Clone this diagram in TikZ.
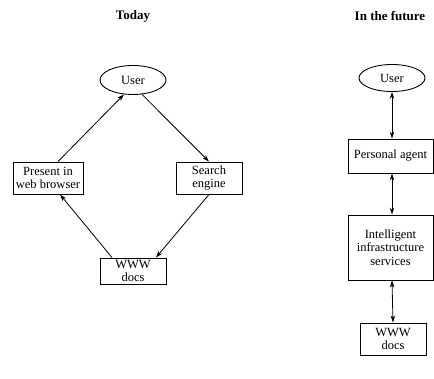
\documentclass[tikz,border=0pt]{standalone}
\usepackage{fontspec}
\setmainfont{Liberation Serif}
\usetikzlibrary{arrows.meta,shapes.geometric,calc}
\begin{document}
\begin{tikzpicture}[x=1pt,y=-1pt,
  every node/.style={font=\fontsize{12.5}{13.5}\selectfont},
  box/.style={draw,line width=0.9pt,rectangle,align=center,inner sep=1pt},
  oval/.style={draw,line width=0.9pt,ellipse,inner sep=0pt},
  title/.style={font=\fontsize{13}{15}\selectfont\bfseries},
  conn/.style={line width=0.8pt,-{Stealth[length=7pt,width=4.5pt]}},
  dconn/.style={line width=0.8pt,{Stealth[length=7pt,width=4.5pt]}-{Stealth[length=7pt,width=4.5pt]}}]
\useasboundingbox (0,0) rectangle (434,379);
\node[title] (t1) at (133,16) {Today};
\node[title] (t2) at (390,16) {In the future};
% left
\node[oval,minimum width=66pt,minimum height=29pt] (u) at (133,80) {User};
\node[box,minimum width=70pt,minimum height=32pt] (p) at (48,178) {Present in\\web browser};
\node[box,minimum width=66pt,minimum height=32pt] (s) at (209,178) {Search\\engine};
\node[box,minimum width=66pt,minimum height=26pt] (w) at (133,271) {WWW\\docs};
\draw[conn] ($(p.north)+(10,0)$) -- (u.238);
\draw[conn] (u.-58) -- (s.north);
\draw[conn] (s.south) -- ($(w.north)+(23,0)$);
\draw[conn] ($(w.north)+(-21,0)$) -- ($(p.south)+(12,0)$);
% right
\node[oval,minimum width=66pt,minimum height=27pt] (u2) at (392,78) {User};
\node[box,minimum width=85pt,minimum height=34pt] (pa) at (390.5,156) {Personal agent};
\node[box,minimum width=85pt,minimum height=65pt] (ii) at (390.5,247.5) {Intelligent\\infrastructure\\services};
\node[box,minimum width=66pt,minimum height=32pt] (w2) at (393,339) {WWW\\docs};
\draw[dconn] (u2.south) -- (u2.south |- pa.north);
\draw[dconn] (u2.south |- pa.south) -- (u2.south |- ii.north);
\draw[dconn] (u2.south |- ii.south) -- (w2.north);
\end{tikzpicture}
\end{document}
